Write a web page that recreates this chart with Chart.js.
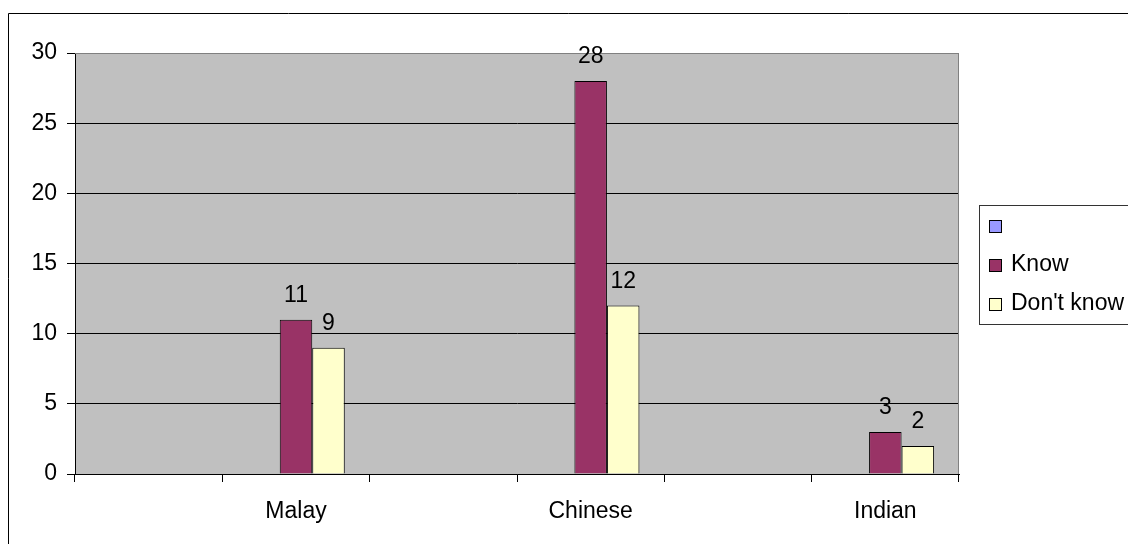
<!DOCTYPE html>
<html>
<head>
<meta charset="utf-8">
<script src="https://cdn.jsdelivr.net/npm/chart.js@4.4.0/dist/chart.umd.min.js"></script>
<style>
  html, body { margin: 0; padding: 0; background: #ffffff; }
  #box { width: 1128px; height: 544px; }
</style>
</head>
<body>
<div id="box"><canvas id="grafico"></canvas></div>
<script>
// dados
const categorias = ['', 'Malay', '', 'Chinese', '', 'Indian'];
const serieVazia = [null, null, null, null, null, null];
const serieKnow = [null, 11, null, 28, null, 3];
const serieDontKnow = [null, 9, null, 12, null, 2];
const ticksY = [0, 5, 10, 15, 20, 25, 30];

const fonte = "'Liberation Sans', Arial, sans-serif";

// fundo cinza da area do grafico + borda externa
const fundoPlugin = {
    id: 'fundo',
    beforeDraw(chart) {
        const c = chart.ctx;
        const a = chart.chartArea;
        c.save();
        c.fillStyle = '#C0C0C0';
        c.fillRect(a.left, a.top, a.right - a.left, a.bottom - a.top);
        // moldura externa (so topo e esquerda aparecem)
        c.strokeStyle = '#000000';
        c.lineWidth = 1;
        c.beginPath();
        c.moveTo(8.5, chart.height);
        c.lineTo(8.5, 13.5);
        c.lineTo(chart.width, 13.5);
        c.stroke();
        c.restore();
    },
    afterDatasetsDraw(chart) {
        const c = chart.ctx;
        const a = chart.chartArea;
        c.save();
        c.strokeStyle = '#808080';
        c.lineWidth = 1;
        c.beginPath();
        c.moveTo(a.left, a.top + 0.5);
        c.lineTo(a.right - 0.5, a.top + 0.5);
        c.lineTo(a.right - 0.5, a.bottom);
        c.stroke();
        c.restore();
    }
};

// numeros acima das barras
const rotulosPlugin = {
    id: 'rotulos',
    afterDatasetsDraw(chart) {
        const c = chart.ctx;
        c.save();
        c.font = '23px ' + fonte;
        c.fillStyle = '#000000';
        c.textAlign = 'center';
        c.textBaseline = 'alphabetic';
        chart.data.datasets.forEach(function (ds, i) {
            const meta = chart.getDatasetMeta(i);
            meta.data.forEach(function (barra, j) {
                const v = ds.data[j];
                if (v === null || v === undefined) return;
                c.fillText(String(v), barra.x, barra.y - 18);
            });
        });
        c.restore();
    }
};

// legenda desenhada a mao (a da lib mexe no tamanho da area)
const legendaPlugin = {
    id: 'legendaManual',
    afterDraw(chart) {
        const c = chart.ctx;
        c.save();
        c.fillStyle = '#ffffff';
        c.fillRect(979.5, 205.5, 200, 119);
        c.strokeStyle = '#333333';
        c.lineWidth = 1;
        c.strokeRect(979.5, 205.5, 200, 119);
        c.font = '23px ' + fonte;
        c.textAlign = 'left';
        c.textBaseline = 'middle';
        const ys = [226, 265, 304];
        chart.data.datasets.forEach(function (ds, i) {
            const y = ys[i];
            c.fillStyle = ds.backgroundColor;
            c.fillRect(989, y - 6, 12, 12);
            c.strokeStyle = '#000000';
            c.strokeRect(989.5, y - 5.5, 12, 12);
            c.fillStyle = '#000000';
            c.fillText(ds.label, 1011, y);
        });
        c.restore();
    }
};

const ctx = document.getElementById('grafico').getContext('2d');

new Chart(ctx, {
    type: 'bar',
    data: {
        labels: categorias,
        datasets: [
            {
                label: '',
                data: serieVazia,
                backgroundColor: '#9999FF',
                borderColor: '#000000',
                borderWidth: 1
            },
            {
                label: 'Know',
                data: serieKnow,
                backgroundColor: '#993366',
                borderColor: '#000000',
                borderWidth: 1
            },
            {
                label: "Don't know",
                data: serieDontKnow,
                backgroundColor: '#FFFFCC',
                borderColor: '#000000',
                borderWidth: 1
            }
        ]
    },
    options: {
        responsive: true,
        maintainAspectRatio: false,
        animation: false,
        categoryPercentage: 0.662,
        barPercentage: 1,
        layout: {
            padding: { top: 53, right: 169, left: 0, bottom: 0 }
        },
        plugins: {
            legend: { display: false },
            tooltip: { enabled: false }
        },
        scales: {
            x: {
                offset: true,
                grid: {
                    offset: true,
                    drawOnChartArea: false,
                    tickLength: 8,
                    color: '#000000'
                },
                border: { color: '#000000' },
                ticks: {
                    color: '#000000',
                    font: { family: fonte, size: 23 },
                    padding: 16,
                    maxRotation: 0,
                    autoSkip: false
                },
                afterFit(scale) { scale.height = 70; }
            },
            y: {
                min: 0,
                max: 30,
                afterBuildTicks(scale) {
                    scale.ticks = ticksY.map(function (v) { return { value: v }; });
                },
                grid: {
                    color: function (c) { return c.tick && c.tick.value === 30 ? '#808080' : '#000000'; },
                    tickColor: '#000000',
                    tickLength: 8
                },
                border: { color: '#000000' },
                ticks: {
                    color: '#000000',
                    font: { family: fonte, size: 23 },
                    padding: 10
                },
                afterFit(scale) { scale.width = 75; }
            }
        }
    },
    plugins: [fundoPlugin, rotulosPlugin, legendaPlugin]
});
</script>
</body>
</html>
